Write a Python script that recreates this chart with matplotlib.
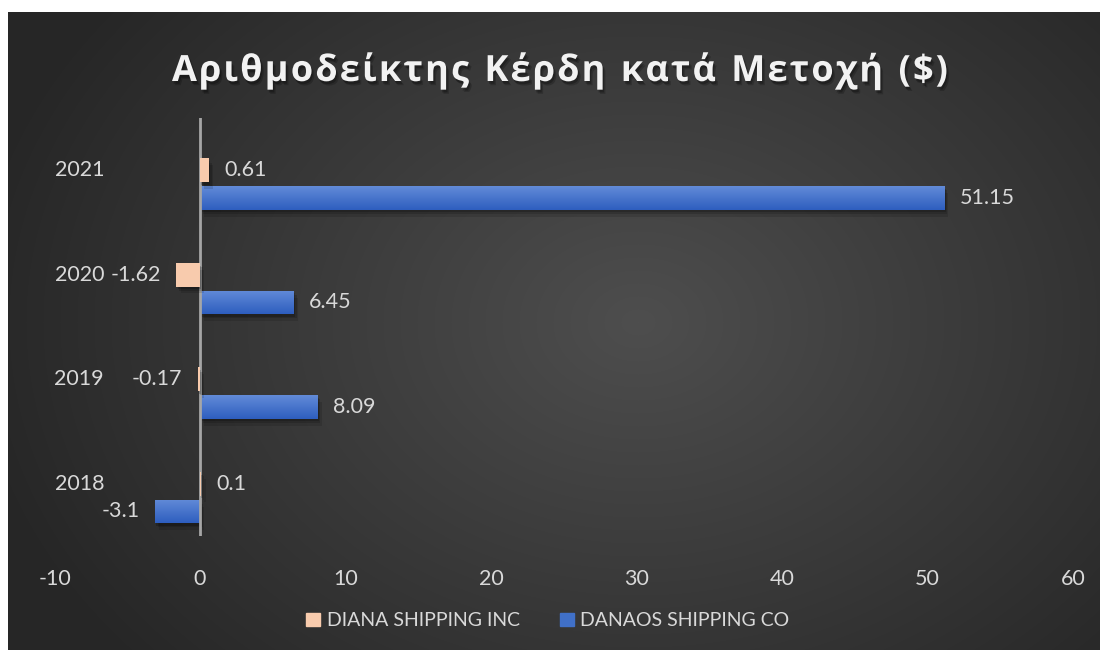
import numpy as np
import matplotlib
matplotlib.use("Agg")
import matplotlib.pyplot as plt
import matplotlib.patheffects as pe
import matplotlib.transforms as mtransforms
from matplotlib.patches import Patch

years = ['2018', '2019', '2020', '2021']
diana = [0.1, -0.17, -1.62, 0.61]
danaos = [-3.1, 8.09, 6.45, 51.15]
series_names = ['DIANA SHIPPING INC', 'DANAOS SHIPPING CO']
title = 'Αριθμοδείκτης Κέρδη κατά Μετοχή ($)'
xticks = [-10, 0, 10, 20, 30, 40, 50, 60]

W, H = 1102, 650
fig = plt.figure(figsize=(W / 100, H / 100), dpi=100)
fig.patch.set_facecolor('white')

FONT = ['Lato', 'DejaVu Sans']
TXT = '#D9D9D9'
C_DIANA = '#F8CBAD'
C_DANAOS = '#4070C8'

# background gradient panel
bg = fig.add_axes([8 / W, 0, 1092 / W, 638 / H], zorder=-10)
yy, xx = np.mgrid[0:638, 0:1092]
cx, cy = 630, 310
r = np.sqrt(((xx - cx) / 680.0) ** 2 + ((yy - cy) / 520.0) ** 2)
r = np.clip(r, 0, 1)
c0 = np.array([0x4e, 0x4e, 0x4e]) / 255
c1 = np.array([0x26, 0x26, 0x26]) / 255
img = c0[None, None, :] * (1 - r[..., None]) + c1[None, None, :] * r[..., None]
bg.imshow(img, aspect='auto', interpolation='bilinear')
bg.set_axis_off()

ax = fig.add_axes([54.5 / W, (H - 536) / H, (1073 - 54.5) / W, (536 - 118) / H])
ax.set_facecolor('none')
for s in ax.spines.values():
    s.set_visible(False)

pos = np.arange(len(years))
bh = 0.225
off = 0.264
shadow = [pe.SimplePatchShadow(offset=(1, -2), shadow_rgbFace='black', alpha=0.18),
          pe.SimplePatchShadow(offset=(2, -3), shadow_rgbFace='black', alpha=0.15),
          pe.SimplePatchShadow(offset=(3, -5), shadow_rgbFace='black', alpha=0.12),
          pe.Normal()]
b1 = ax.barh(pos, diana, height=bh, color=C_DIANA, zorder=4.5, path_effects=shadow)
b2 = ax.barh(pos - off, danaos, height=bh, color=C_DANAOS, zorder=3, path_effects=shadow)

# vertical gradient on the blue bars
grad = np.linspace(0, 1, 64)[:, None]
top = np.array([0x62, 0x8b, 0xd8]) / 255
bot = np.array([0x2e, 0x5e, 0xbf]) / 255
gimg = top[None, None, :] * (1 - grad[..., None]) + bot[None, None, :] * grad[..., None]
for b in b2:
    x0, x1 = sorted([b.get_x(), b.get_x() + b.get_width()])
    y0 = b.get_y()
    y1 = y0 + b.get_height()
    im = ax.imshow(gimg, extent=(x0, x1, y0, y1), origin='upper', aspect='auto',
                   zorder=3.5, interpolation='bilinear')
    im.set_clip_path(b)

ax.axvline(0, color='#A6A6A6', lw=2, zorder=4)
ax.set_xlim(-10, 60)
ax.set_ylim(-0.5, 3.5)
ax.set_xticks(xticks)
ax.set_xticklabels([str(t) for t in xticks])
ax.set_yticks([])
ax.tick_params(axis='both', length=0, colors=TXT, labelsize=15.5)
ax.tick_params(axis='x', pad=24)
for lab in ax.get_xticklabels():
    lab.set_fontfamily(FONT)

# category labels
trans = mtransforms.blended_transform_factory(fig.transFigure, ax.transData)
for p, yr in zip(pos, years):
    ax.text(104 / W, p, yr, transform=trans, ha='right', va='center',
            color=TXT, fontsize=15.5, family=FONT)

def label(bars, vals):
    for b, v in zip(bars, vals):
        y = b.get_y() + b.get_height() / 2
        if v >= 0:
            ax.annotate(f'{v:g}', (v, y), xytext=(11, 0), textcoords='offset points',
                        ha='left', va='center', color=TXT, fontsize=15.5, family=FONT)
        else:
            ax.annotate(f'{v:g}', (v, y), xytext=(-11, 0), textcoords='offset points',
                        ha='right', va='center', color=TXT, fontsize=15.5, family=FONT)

label(b1, diana)
label(b2, danaos)

handles = [Patch(color=C_DIANA), Patch(color=C_DANAOS)]
leg = fig.legend(handles, series_names, loc='center', bbox_to_anchor=(548 / W, 1 - 621 / H),
                 ncol=2, frameon=False, handlelength=0.68, handleheight=0.68,
                 handletextpad=0.35, columnspacing=2.1,
                 prop={'family': FONT, 'size': 14})
for t in leg.get_texts():
    t.set_color(TXT)

# title with letter spacing
fig.canvas.draw()
renderer = fig.canvas.get_renderer()
tprops = dict(fontsize=26, fontweight='bold', family=['Open Sans', 'DejaVu Sans'], color='#F2F2F2')
widths = []
for ch in title:
    t = fig.text(0, 0, ch if ch != ' ' else 'i', **tprops)
    bb = t.get_window_extent(renderer)
    widths.append(bb.width)
    t.remove()
target_left, target_right = 172, 948
total = sum(widths)
spacing = (target_right - target_left - total) / (len(title) - 1)
x = target_left
ty = 1 - 72 / H
tshadow = [pe.SimplePatchShadow(offset=(1, -2), shadow_rgbFace='black', alpha=0.25),
           pe.SimplePatchShadow(offset=(2, -3), shadow_rgbFace='black', alpha=0.2),
           pe.Normal()]
for ch, w in zip(title, widths):
    if ch != ' ':
        fig.text(x / W, ty, ch, ha='left', va='center', path_effects=tshadow, **tprops)
    x += w + spacing

fig.savefig('out.png', dpi=100, facecolor='white')
